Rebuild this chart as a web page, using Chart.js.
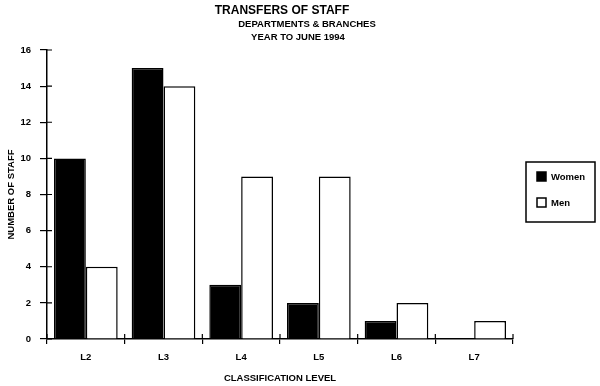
<!DOCTYPE html>
<html>
<head>
<meta charset="utf-8">
<title>Transfers of Staff</title>
<script src="https://cdn.jsdelivr.net/npm/chart.js@4"></script>
<style>
    html, body { margin: 0; padding: 0; background: #fff; }
    #wrap { width: 600px; height: 386px; position: relative; }
</style>
</head>
<body>
<div id="wrap"><canvas id="chart1"></canvas></div>
<script>
const levels = ['L2', 'L3', 'L4', 'L5', 'L6', 'L7'];
const women = [10, 15, 3, 2, 1, 0];
const men = [4, 14, 9, 9, 2, 1];
const seriesNames = ['Women', 'Men'];
const titleLines = ['TRANSFERS OF STAFF', 'DEPARTMENTS & BRANCHES', 'YEAR TO JUNE 1994'];

(function(){
    "use strict";

    const fontFamily = "'Liberation Sans', Arial, sans-serif";

    // titles + legend box drawn by hand, the scan has them placed loosely
    const extras = {
        id: 'extras',
        afterDraw(chart) {
            const ctx = chart.ctx;
            ctx.save();
            ctx.fillStyle = '#000';
            ctx.textAlign = 'center';
            ctx.textBaseline = 'middle';
            ctx.font = 'bold 12px ' + fontFamily;
            ctx.fillText(titleLines[0], 282, 11);
            ctx.font = 'bold 9.5px ' + fontFamily;
            ctx.fillText(titleLines[1], 307, 24);
            ctx.fillText(titleLines[2], 298, 37);

            // legend
            ctx.lineWidth = 1.5;
            ctx.strokeStyle = '#000';
            ctx.strokeRect(526, 162, 69, 60);
            chart.data.datasets.forEach(function(ds, i){
                const y = 172 + i * 26;
                ctx.fillStyle = ds.backgroundColor;
                ctx.fillRect(537, y, 9, 9);
                ctx.strokeRect(537, y, 9, 9);
                ctx.fillStyle = '#000';
                ctx.textAlign = 'left';
                ctx.font = 'bold 9.5px ' + fontFamily;
                ctx.fillText(ds.label, 551, y + 5);
            });

            // tick marks also poke into the plot area
            const xs = chart.scales.x;
            const ys = chart.scales.y;
            ctx.lineWidth = 1.2;
            ctx.beginPath();
            ys.ticks.forEach(function(t, i){
                const py = ys.getPixelForTick(i);
                ctx.moveTo(xs.left, py);
                ctx.lineTo(xs.left + 5, py);
            });
            for (let i = 0; i <= levels.length; i++) {
                const px = xs.left + (xs.right - xs.left) * i / levels.length;
                ctx.moveTo(px, ys.bottom);
                ctx.lineTo(px, ys.bottom - 5);
            }
            ctx.stroke();
            ctx.restore();
        }
    };

    const data1 = {
        labels: levels,
        datasets: [{
            label: seriesNames[0],
            data: women,
            backgroundColor: '#000',
            borderColor: '#000',
            borderWidth: 1.5
        }, {
            label: seriesNames[1],
            data: men,
            backgroundColor: '#fff',
            borderColor: '#000',
            borderWidth: 1.5
        }]
    };

    const config1 = {
        type: 'bar',
        data: data1,
        options: {
            responsive: true,
            maintainAspectRatio: false,
            animation: false,
            categoryPercentage: 0.82,
            barPercentage: 1,
            layout: { padding: { top: 50, right: 87, left: 0, bottom: 2 } },
            plugins: {
                legend: { display: false },
                tooltip: { enabled: false }
            },
            scales: {
                x: {
                    border: { color: '#000', width: 1.5 },
                    grid: { drawOnChartArea: false, color: '#000', lineWidth: 1.2, tickLength: 5, offset: true },
                    ticks: { color: '#000', font: { family: fontFamily, size: 9.5, weight: 'bold' }, padding: 8 },
                    title: {
                        display: true,
                        text: 'CLASSIFICATION LEVEL',
                        color: '#000',
                        font: { family: fontFamily, size: 9.5, weight: 'bold' },
                        padding: { top: 6, bottom: 0 }
                    },
                    afterFit(scale) { scale.height = 45; }
                },
                y: {
                    min: 0,
                    max: 16,
                    border: { color: '#000', width: 1.5 },
                    grid: { drawOnChartArea: false, color: '#000', lineWidth: 1.2, tickLength: 7 },
                    ticks: { stepSize: 2, color: '#000', font: { family: fontFamily, size: 9.5, weight: 'bold' }, padding: 9 },
                    title: {
                        display: true,
                        text: 'NUMBER OF STAFF',
                        color: '#000',
                        font: { family: fontFamily, size: 9.5, weight: 'bold' },
                        padding: { top: 6, bottom: 0 }
                    },
                    afterFit(scale) { scale.width = 47; }
                }
            }
        },
        plugins: [extras]
    };

    const chart1 = new Chart(document.getElementById('chart1'), config1);
})();
</script>
</body>
</html>
